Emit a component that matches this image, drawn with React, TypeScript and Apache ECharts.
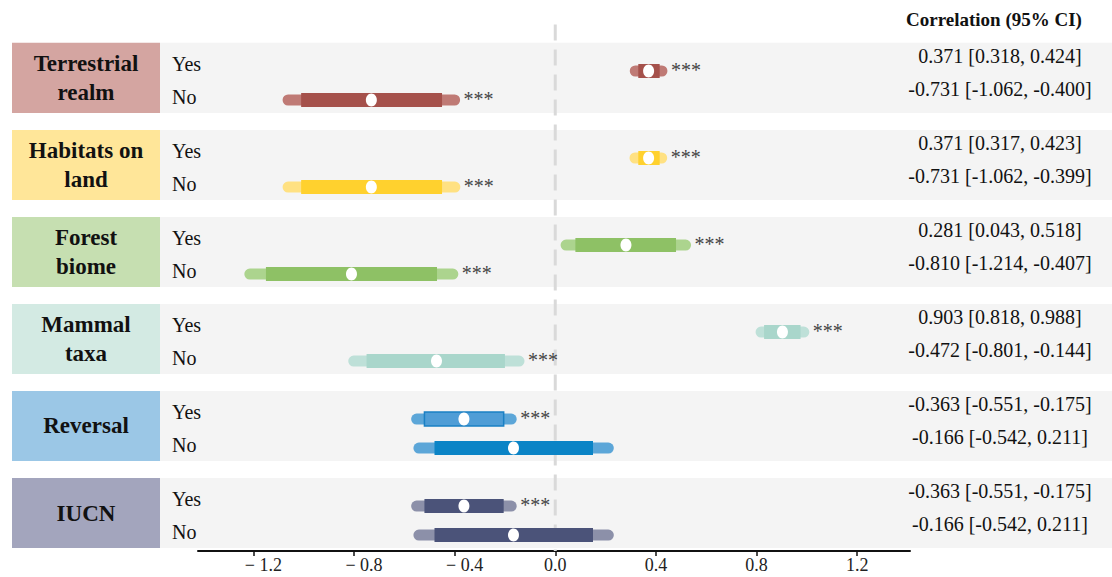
import { useEffect, useRef } from "react";
import * as echarts from "echarts";

// Moderator groups, each split into a "Yes" and a "No" level
const groups = ["Terrestrial\nrealm", "Habitats on\nland", "Forest\nbiome", "Mammal\ntaxa", "Reversal", "IUCN"];
const levels = ["Yes", "No"];

// Correlation estimates and 95% CI, ordered group by group (Yes, No)
const estimate = [0.371, -0.731, 0.371, -0.731, 0.281, -0.81, 0.903, -0.472, -0.363, -0.166, -0.363, -0.166];
const ci95Low = [0.318, -1.062, 0.317, -1.062, 0.043, -1.214, 0.818, -0.801, -0.551, -0.542, -0.551, -0.542];
const ci95High = [0.424, -0.4, 0.423, -0.399, 0.518, -0.407, 0.988, -0.144, -0.175, 0.211, -0.175, 0.211];
// Narrower interval drawn as the thick inner bar
const innerLow = [0.33, -1.01, 0.33, -1.01, 0.08, -1.15, 0.83, -0.75, -0.52, -0.48, -0.52, -0.48];
const innerHigh = [0.415, -0.45, 0.415, -0.45, 0.48, -0.47, 0.975, -0.2, -0.205, 0.15, -0.205, 0.15];
const significance = ["***", "***", "***", "***", "***", "***", "***", "***", "***", "", "***", ""];

const xTicks = [-1.2, -0.8, -0.4, 0, 0.4, 0.8, 1.2];

const boxColors = ["#d4a5a1", "#ffe699", "#c6dfb1", "#d3eae3", "#9bc7e6", "#a3a5bd"];
const innerColors = ["#a5514b", "#ffd12e", "#8ec165", "#a9d6cb", "#0b84c6", "#4b5379"];
const outerColors = ["#bf7a75", "#ffe182", "#acd48e", "#bee0d8", "#5ca6d8", "#8c90a9"];
// the Reversal "Yes" inner bar is a lighter fill with a darker rim
const innerFillOverride: Record<number, { fill: string; stroke: string }> = {
  8: { fill: "#4f9dd6", stroke: "#1a80c4" },
};

const SERIF = '"Liberation Serif", "Times New Roman", serif';
const fmt = (v: number) => v.toFixed(3);

export default function App() {
  const ref = useRef<HTMLDivElement>(null);

  useEffect(() => {
    if (!ref.current) return;
    const chart = echarts.init(ref.current, undefined, { renderer: "svg" });

    // vertical slot of each row: groups are three slots apart, No sits one slot under Yes
    const rowPos = estimate.map((_, i) => 3 * Math.floor(i / 2) + (i % 2));

    const markData = estimate.map((e, i) => [
      e,
      rowPos[i],
      ci95Low[i],
      ci95High[i],
      innerLow[i],
      innerHigh[i],
      i,
    ]);
    const bandData = groups.map((_, g) => [0, 3 * g, g]);

    const option: any = {
      animation: false,
      backgroundColor: "#ffffff",
      grid: { left: 198, right: 202, top: 24.6, bottom: 26, outerBoundsMode: "none" },
      xAxis: {
        type: "value",
        min: -1.42,
        max: 1.41,
        splitLine: { show: false },
        axisLine: { show: true, onZero: false, lineStyle: { color: "#111", width: 2 } },
        axisTick: { show: true, customValues: xTicks, length: 5, lineStyle: { color: "#111", width: 1.5 } },
        axisLabel: {
          customValues: xTicks,
          color: "#222",
          fontSize: 18,
          fontFamily: SERIF,
          margin: 5,
          formatter: (v: number) =>
            v < 0 ? `{neg|\u2212 ${Math.abs(v).toFixed(1)}}` : v.toFixed(1),
          rich: {
            neg: { fontSize: 18, fontFamily: SERIF, color: "#222", padding: [0, 0, 0, 20] },
          },
        },
      },
      yAxis: { type: "value", inverse: true, min: -1.6, max: 16.55, show: false },
      graphic: [
        {
          type: "text",
          left: 906,
          top: 10,
          style: { text: "Correlation (95% CI)", font: `bold 19px ${SERIF}`, fill: "#111" },
        },
      ],
      series: [
        {
          type: "custom",
          name: "bands",
          z: 1,
          silent: true,
          data: bandData,
          renderItem: (params: any, api: any) => {
            const g = api.value(2);
            const base = api.value(1);
            const top = api.coord([0, base - 0.97])[1];
            const bottom = api.coord([0, base + 1.45])[1];
            const W = api.getWidth();
            return {
              type: "group",
              children: [
                { type: "rect", shape: { x: 160, y: top, width: W - 160, height: bottom - top }, style: { fill: "#f4f4f4" } },
                { type: "rect", shape: { x: 12, y: top, width: 148, height: bottom - top }, style: { fill: boxColors[g] } },
                {
                  type: "text",
                  x: 86,
                  y: (top + bottom) / 2,
                  style: {
                    text: groups[g],
                    font: `bold 23px ${SERIF}`,
                    fill: "#111",
                    align: "center",
                    verticalAlign: "middle",
                    lineHeight: 29,
                  },
                },
              ],
            };
          },
        },
        {
          type: "line",
          name: "zero",
          z: 2,
          silent: true,
          symbol: "none",
          data: [
            [0, -1.6],
            [0, 16.55],
          ],
          lineStyle: { color: "#d9d9d9", width: 3, type: [16, 9] },
        },
        {
          type: "custom",
          name: "correlation",
          z: 3,
          silent: true,
          data: markData,
          renderItem: (params: any, api: any) => {
            const i = api.value(6);
            const g = Math.floor(i / 2);
            const y = api.coord([0, api.value(1)])[1];
            const xp = api.coord([api.value(0), 0])[0];
            const xl = api.coord([api.value(2), 0])[0];
            const xh = api.coord([api.value(3), 0])[0];
            const il = api.coord([api.value(4), 0])[0];
            const ih = api.coord([api.value(5), 0])[0];
            const isYes = i % 2 === 0;
            const ciText = `${fmt(estimate[i])} [${fmt(ci95Low[i])}, ${fmt(ci95High[i])}]`;
            const ov = innerFillOverride[i];
            const innerStyle = ov
              ? { fill: ov.fill, stroke: ov.stroke, lineWidth: 1.5 }
              : { fill: innerColors[g] };
            return {
              type: "group",
              children: [
                {
                  type: "rect",
                  shape: { x: xl - 5.5, y: y - 5.5, width: xh - xl + 11, height: 11, r: 5.5 },
                  style: { fill: outerColors[g] },
                },
                { type: "rect", shape: { x: il, y: y - 7, width: ih - il, height: 14 }, style: innerStyle },
                { type: "ellipse", shape: { cx: xp, cy: y, rx: 5.5, ry: 6.5 }, style: { fill: "#ffffff" } },
                {
                  type: "text",
                  x: xh + 9,
                  y: y - 1,
                  style: { text: significance[i], font: `20px ${SERIF}`, fill: "#444", align: "left", verticalAlign: "middle" },
                },
                {
                  type: "text",
                  x: 172,
                  y: y - (isYes ? 7 : 3),
                  style: { text: levels[i % 2], font: `20px ${SERIF}`, fill: "#111", align: "left", verticalAlign: "middle" },
                },
                {
                  type: "text",
                  x: 1000,
                  y: y - (isYes ? 15 : 11),
                  style: { text: ciText, font: `20px ${SERIF}`, fill: "#111", align: "center", verticalAlign: "middle" },
                },
              ],
            };
          },
        },
      ],
    };

    chart.setOption(option);
    return () => chart.dispose();
  }, []);

  return (
    <div
      ref={ref}
      style={{ position: "fixed", left: 0, top: 0, width: 1112, height: 577, background: "#fff" }}
    />
  );
}
